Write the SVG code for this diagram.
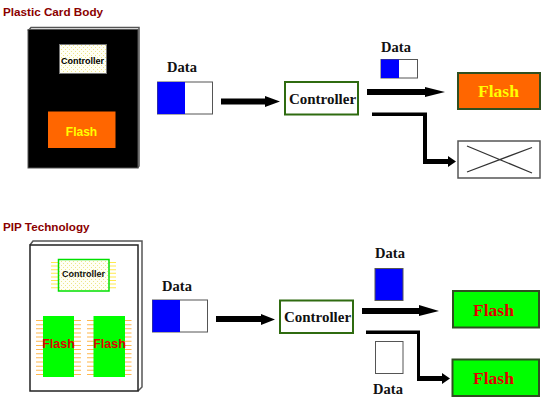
<svg xmlns="http://www.w3.org/2000/svg" width="546" height="405" viewBox="0 0 546 405">
<style>
.h{font:bold 11.700px "Liberation Sans",Arial,sans-serif;fill:#8b0000}
.s{font-family:"Liberation Serif","Times New Roman",serif;font-weight:bold;text-anchor:middle}
.a{font-family:"Liberation Sans",Arial,sans-serif;font-weight:bold;text-anchor:middle}
.d{font-size:14.500px;fill:#111}
.c{font-size:15px;fill:#111}
.f{font-size:17.500px}
.box{stroke:#555;stroke-width:1}
.ctl{fill:#fff;stroke:#2f6b10;stroke-width:2}
.fl{stroke:#2f4f20;stroke-width:2}
.pa{fill:none;stroke:#ffe94d;stroke-width:7;stroke-dasharray:1 2.6}
.po{fill:none;stroke:#ffb84d;stroke-width:7;stroke-dasharray:1 3.15}
.ar{fill:#000;stroke:none}
</style>
<defs>
<pattern id="dots" width="4" height="4" patternUnits="userSpaceOnUse"><rect width="4" height="4" fill="#fffff4"/><rect x="1" y="1" width="1" height="1" fill="#eee58a"/><rect x="3" y="3" width="1" height="1" fill="#eee58a"/></pattern>
</defs>

<text class="h" x="3" y="16">Plastic Card Body</text>
<text class="h" x="3" y="231">PIP Technology</text>

<g id="card1">
<path d="M28 31L31 27.500H139V166L137.500 168" fill="none" stroke="#555" stroke-width="1.500"/>
<rect x="28" y="29.500" width="110" height="138.500" fill="#000" stroke="#555" stroke-width="1"/>
</g>
<g id="card1-controller">
<rect x="59.500" y="44.500" width="47" height="29" fill="url(#dots)" stroke="#777"/>
<text class="a" x="82.500" y="63.500" font-size="9" fill="#000">Controller</text>
</g>
<g id="card1-flash">
<rect x="48" y="111.500" width="67.500" height="36.500" fill="#ff6600"/>
<text class="a" x="81.500" y="135.500" font-size="12" fill="#ffff00">Flash</text>
</g>

<g id="data1">
<text class="s d" x="182" y="72">Data</text>
<rect class="box" x="157.500" y="82" width="55" height="32" fill="#fff"/>
<rect x="157.500" y="82" width="27.500" height="32" fill="#0000ff"/>
</g>
<g id="controller1">
<rect class="ctl" x="285" y="82" width="73" height="32.500"/>
<text class="s c" x="322.500" y="104">Controller</text>
</g>
<g id="data2">
<text class="s d" x="396" y="52">Data</text>
<rect class="box" x="381" y="59.500" width="36.500" height="18.500" fill="#fff"/>
<rect x="381" y="59.500" width="18" height="18.500" fill="#0000ff"/>
</g>
<g id="flash1">
<rect class="fl" x="458" y="73" width="82" height="36" fill="#ff6600"/>
<text class="s f" x="498.500" y="97" fill="#ffff00">Flash</text>
</g>
<g id="blocked">
<rect x="458" y="141" width="82" height="37" fill="#fff" stroke="#555" stroke-width="1.500"/>
<path d="M467 146L532 173M467 172L532 147.500" fill="none" stroke="#333" stroke-width="1.300"/>
</g>

<g id="card2">
<path d="M30 245L33 241H142V387L138 391" fill="#fff" stroke="#555" stroke-width="1.500"/>
<rect x="30" y="245" width="108" height="146" fill="#fff" stroke="#222" stroke-width="1.500"/>
</g>
<g id="card2-controller">
<path class="pa" d="M54.500 262V289M112.500 262V289"/>
<rect x="58.500" y="259.500" width="50.500" height="31.500" fill="url(#dots)" stroke="#00e000" stroke-width="1.500"/>
<text class="a" x="83.500" y="277" font-size="9" fill="#111">Controller</text>
</g>
<g id="card2-flash1">
<path class="po" d="M39.500 320V375M77.500 320V375"/>
<rect x="43" y="316" width="31" height="61" fill="#00ff00"/>
<text class="a" x="58.500" y="347.500" font-size="12.500" fill="#e00000">Flash</text>
</g>
<g id="card2-flash2">
<path class="po" d="M90.500 320V375M128 320V375"/>
<rect x="93.500" y="316" width="31.500" height="61" fill="#00ff00"/>
<text class="a" x="109.500" y="347.500" font-size="12.500" fill="#e00000">Flash</text>
</g>

<g id="data3">
<text class="s d" x="177" y="291">Data</text>
<rect class="box" x="152.500" y="300" width="55" height="32" fill="#fff"/>
<rect x="152.500" y="300" width="27.500" height="32" fill="#0000ff"/>
</g>
<g id="controller2">
<rect class="ctl" x="280" y="300.500" width="73" height="32.500"/>
<text class="s c" x="317.500" y="322">Controller</text>
</g>
<g id="data4">
<text class="s d" x="390" y="258">Data</text>
<rect x="375" y="268.500" width="28" height="32" fill="#0000ff" stroke="#555"/>
</g>
<g id="data5">
<rect class="box" x="375.500" y="341.500" width="27.500" height="32" fill="#fff"/>
<text class="s d" x="388" y="394">Data</text>
</g>
<g id="flash2">
<rect class="fl" x="453" y="291" width="86" height="36.500" fill="#00ff00"/>
<text class="s f" x="493.500" y="316" fill="#e00000">Flash</text>
</g>
<g id="flash3">
<rect class="fl" x="452.500" y="359.500" width="86.500" height="36.500" fill="#00ff00"/>
<text class="s f" x="493.500" y="384" fill="#e00000">Flash</text>
</g>

<g id="connectors">
<polygon class="ar" points="221,98.500 265,98.500 265,96 280,101.500 265,107 265,104.500 221,104.500"/>
<polygon class="ar" points="367,89 425,89 425,87 445,92 425,97 425,95 367,95"/>
<polygon class="ar" points="372,112.500 427,112.500 427,159 448,159 448,156 456,161.500 448,167 448,164 423,164 423,116 372,116"/>
<polygon class="ar" points="216,316 261,316 261,314 275,319.500 261,325 261,322 216,322"/>
<polygon class="ar" points="362,308 419,308 419,305 439,311 419,316 419,314 362,314"/>
<polygon class="ar" points="366,330.500 420,330.500 420,376 442,376 442,373 450,378.500 442,384 442,381 417,381 417,334 366,334"/>
</g>
</svg>
